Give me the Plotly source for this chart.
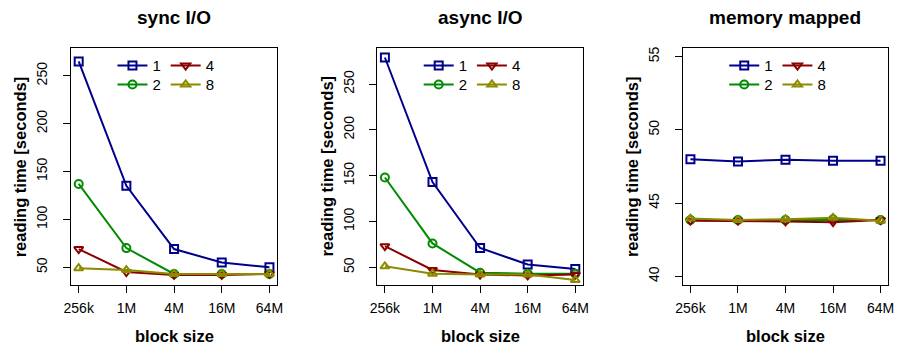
import plotly.graph_objects as go

W, H = 904, 347

blocks = ["256k", "1M", "4M", "16M", "64M"]
threads = ["1", "2", "4", "8"]

sync_1 = [265, 135, 69, 55, 50]
sync_2 = [137, 70, 43, 43, 43]
sync_4 = [69, 45, 42, 42, 43]
sync_8 = [49, 47, 43, 43, 43]

async_1 = [279, 143, 71, 53, 48]
async_2 = [148, 76, 44, 43, 43]
async_4 = [73, 47, 42, 41, 42]
async_8 = [51, 43, 42, 42, 36]

mmap_1 = [48.0, 47.85, 47.97, 47.9, 47.9]
mmap_2 = [43.85, 43.85, 43.85, 43.9, 43.85]
mmap_4 = [43.8, 43.8, 43.75, 43.7, 43.85]
mmap_8 = [43.95, 43.85, 43.9, 44.0, 43.8]

titles = ["sync I/O", "async I/O", "memory mapped"]
panels = [
    [sync_1, sync_2, sync_4, sync_8],
    [async_1, async_2, async_4, async_8],
    [mmap_1, mmap_2, mmap_4, mmap_8],
]
yranges = [[31.25, 279.2], [30.4, 289.5], [39.4, 55.6]]
ytickvals = [[50, 100, 150, 200, 250], [50, 100, 150, 200, 250], [40, 45, 50, 55]]

colors = ["#00008B", "#008B00", "#8B0000", "#8B8B00"]
symbols = ["square-open", "circle-open", "triangle-down-open", "triangle-up-open"]

FONT = "Liberation Sans, Arial, Helvetica, sans-serif"

# pixel layout of the plot boxes
boxes_x = [(65, 274), (375.7, 584.3), (685.7, 894)]
box_top, box_bot = 47, 285
leg_rows = [65, 84]          # legend row centres
leg_cols = [42, 96]          # legend left offsets from box left
leg_pos = {0: (0, 0), 1: (0, 1), 2: (1, 0), 3: (1, 1)}  # trace -> (col, row)


def px(x):
    return x / W


def py(y):
    return 1 - y / H


fig = go.Figure()
layout = dict(
    width=W, height=H,
    margin=dict(l=0, r=0, t=0, b=0),
    paper_bgcolor="white", plot_bgcolor="white",
    font=dict(family=FONT, size=14, color="black"),
    showlegend=True,
    annotations=[],
)

for p in range(3):
    xa = "x" if p == 0 else f"x{p+1}"
    ya = "y" if p == 0 else f"y{p+1}"
    x0, x1 = boxes_x[p]
    for t in range(4):
        idx = 4 * p + t + 1
        legname = "legend" if idx == 1 else f"legend{idx}"
        fig.add_trace(go.Scatter(
            x=blocks, y=panels[p][t], name=threads[t],
            mode="lines+markers",
            line=dict(color=colors[t], width=2),
            marker=dict(symbol=symbols[t], size=8, color=colors[t],
                        line=dict(color=colors[t], width=2)),
            xaxis=xa, yaxis=ya, legend=legname,
        ))
        col, row = leg_pos[t]
        layout[legname] = dict(
            x=px(x0 + leg_cols[col]), y=py(leg_rows[row]),
            xanchor="left", yanchor="middle",
            bgcolor="rgba(0,0,0,0)", borderwidth=0,
            font=dict(size=15), itemwidth=30, orientation="v",
        )
    axkey = "" if p == 0 else str(p + 1)
    layout["xaxis" + axkey] = dict(
        domain=[px(x0), px(x1)], anchor=ya, type="category",
        range=[-0.16, 4.16], showgrid=False, zeroline=False,
        showline=True, mirror=True, linecolor="black", linewidth=1,
        ticks="outside", ticklen=7, tickcolor="black", tickwidth=1,
        ticklabelstandoff=3, tickfont=dict(size=14),
    )
    layout["yaxis" + axkey] = dict(
        domain=[py(box_bot), py(box_top)], anchor=xa,
        range=yranges[p], tickvals=ytickvals[p], tickangle=-90,
        showgrid=False, zeroline=False,
        showline=True, mirror=True, linecolor="black", linewidth=1,
        ticks="outside", ticklen=7, tickcolor="black", tickwidth=1,
        ticklabelstandoff=10, tickfont=dict(size=14),
    )
    cx = (x0 + x1) / 2
    layout["annotations"] += [
        dict(text="<b>" + titles[p] + "</b>", x=px(cx), y=py(17),
             xref="paper", yref="paper", showarrow=False,
             font=dict(size=19), xanchor="center", yanchor="middle"),
        dict(text="<b>block size</b>", x=px(cx), y=py(336),
             xref="paper", yref="paper", showarrow=False,
             font=dict(size=16.5), xanchor="center", yanchor="middle"),
        dict(text="<b>reading time [seconds]</b>", x=px(x0 - 52),
             y=py((box_top + box_bot) / 2),
             xref="paper", yref="paper", showarrow=False, textangle=-90,
             font=dict(size=16.5), xanchor="center", yanchor="middle"),
    ]

fig.update_layout(**layout)
fig.write_html(
    "out.html",
    config={"displayModeBar": False},
    post_script="document.body.style.margin='0px';document.body.style.overflow='hidden';",
)
